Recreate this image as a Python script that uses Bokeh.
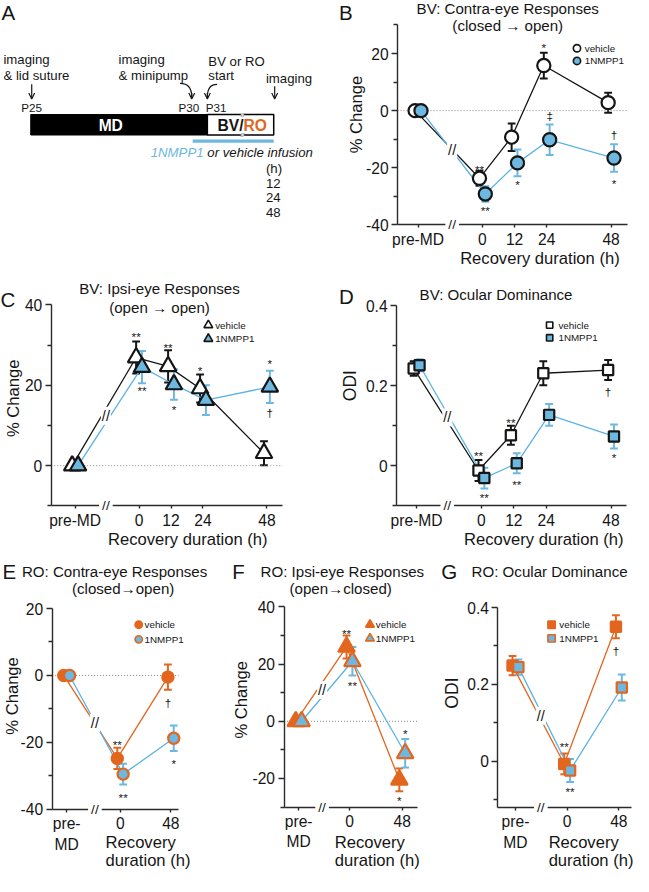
import math
import numpy as np
from bokeh.plotting import figure
from bokeh.models import (Range1d, FixedTicker, Label, Whisker, ColumnDataSource,
                          TeeHead, Arrow, OpenHead)
from bokeh.layouts import column, row
from bokeh.embed import file_html
from bokeh.resources import INLINE
from bokeh.core.properties import value

S = 633 / 649
FONT = "Liberation Sans"
INK = "#151515"
AXIS = "#2b2b2b"
ORANGE = "#e2661e"
BLUE = "#6cb8e0"
BLUE_LINE = "#5cb3e2"
ZERO = "#8a8a8a"

# ---------------- data ----------------
bv_hours = [0, 12, 24, 48]
ro_hours = [0, 48]

# first value of each series = pre-MD
b_vehicle     = [0.0, -23.7, -9.3, 15.8, 2.8]
b_vehicle_err = [0.0, 2.6, 4.8, 4.5, 3.5]
b_nmpp1       = [0.0, -29.2, -18.3, -10.2, -16.6]
b_nmpp1_err   = [0.0, 2.7, 4.7, 5.3, 4.8]

c_vehicle     = [0.0, 26.9, 24.7, 19.2, 3.1]
c_vehicle_err = [0.0, 4.0, 4.0, 3.5, 3.0]
c_nmpp1       = [0.0, 24.5, 20.2, 16.3, 19.6]
c_nmpp1_err   = [0.0, 4.0, 3.8, 3.7, 4.0]

d_vehicle     = [0.243, -0.012, 0.076, 0.231, 0.239]
d_vehicle_err = [0.018, 0.026, 0.024, 0.030, 0.025]
d_nmpp1       = [0.251, -0.031, 0.006, 0.127, 0.073]
d_nmpp1_err   = [0.015, 0.026, 0.025, 0.027, 0.030]

e_vehicle     = [0.0, -24.8, -0.5]
e_vehicle_err = [0.0, 3.2, 3.8]
e_nmpp1       = [0.0, -29.5, -18.8]
e_nmpp1_err   = [0.0, 3.1, 3.8]

f_vehicle     = [0.0, 26.0, -20.5]
f_vehicle_err = [0.0, 4.0, 4.0]
f_nmpp1       = [0.0, 21.0, -11.2]
f_nmpp1_err   = [0.0, 5.0, 5.0]

g_vehicle     = [0.249, -0.007, 0.350]
g_vehicle_err = [0.025, 0.027, 0.030]
g_nmpp1       = [0.245, -0.024, 0.192]
g_nmpp1_err   = [0.020, 0.030, 0.034]

# significance marks: index into [pre-MD]+hours, series, y value, symbol
b_mark_idx = [1, 1, 2, 3, 3, 4, 4]
b_mark_ser = ["v", "n", "n", "v", "n", "n", "n"]
b_mark_y   = [-19.5, -34.1, -24.9, 23.2, -1.7, -8.2, -24.6]
b_mark_sym = ["**", "**", "*", "*", "\u2021", "\u2020", "*"]

c_mark_idx = [1, 1, 2, 2, 3, 4, 4]
c_mark_ser = ["v", "n", "v", "n", "v", "n", "n"]
c_mark_y   = [32.9, 19.3, 30.2, 14.6, 24.4, 26.1, 13.2]
c_mark_sym = ["**", "**", "**", "*", "*", "*", "\u2020"]

d_mark_idx = [1, 1, 2, 2, 4, 4]
d_mark_ser = ["v", "n", "v", "n", "v", "n"]
d_mark_y   = [0.034, -0.073, 0.115, -0.039, 0.185, 0.027]
d_mark_sym = ["**", "**", "**", "**", "\u2020", "*"]

e_mark_idx = [1, 1, 2, 2]
e_mark_ser = ["v", "n", "v", "n"]
e_mark_y   = [-19.8, -35.6, -8.2, -25.4]
e_mark_sym = ["**", "**", "\u2020", "*"]

f_mark_idx = [1, 1, 2, 2]
f_mark_ser = ["v", "n", "n", "v"]
f_mark_y   = [31.7, 13.7, -3.4, -26.6]
f_mark_sym = ["**", "**", "*", "*"]

g_mark_idx = [1, 1, 2]
g_mark_ser = ["v", "n", "v"]
g_mark_y   = [0.046, -0.071, 0.289]
g_mark_sym = ["**", "**", "\u2020"]

series_names = ["vehicle", "1NMPP1"]
timeline_events = ["P25", "P30", "P31"]
recovery_list = ["(h)", "12", "24", "48"]


def fs(v):
    return f"{v * S:.1f}px"


def make_fig(region, xr, yr, axes=True):
    x0, y0, w, h = region
    W = round((x0 + w) * S) - round(x0 * S)
    H = round((y0 + h) * S) - round(y0 * S)
    kw = {} if axes else dict(x_axis_type=None, y_axis_type=None)
    p = figure(width=W, height=H, x_range=Range1d(*xr), y_range=Range1d(*yr),
               min_border_left=0, min_border_top=0, min_border_right=0, min_border_bottom=0,
               output_backend="svg", toolbar_location=None, tools="", **kw)
    p.outline_line_color = None
    p.background_fill_color = "white"
    p.border_fill_color = "white"
    if axes:
        p.grid.visible = False
    return p


def label(p, x, y, text, size, align="left", color=INK, style="normal",
          bg=None, pad=0, angle=0.0):
    kw = {}
    if bg is not None:
        kw = dict(background_fill_color=bg, padding=pad)
    p.add_layout(Label(x=x, y=y, text=text, text_font=FONT, text_font_size=fs(size),
                       text_align=align, text_baseline="middle", text_color=color,
                       text_font_style=style, angle=angle, **kw))


def data_panel(region, x0px, pxh, y0px, pyu, ax_left, ax_right, ybounds,
               premd_x, hours, veh, veh_err, nmp, nmp_err,
               kind, marker, msize, yticks, yminor, ylabel, ylabel_pos, zero, break_px, marks,
               letter, titles, xlabels, legend, lmsize, pre_text, ylabel_size=17):
    rx0, ry0, w, h = region

    def X(px):
        return (px - x0px) / pxh

    def Y(py):
        return (y0px - py) / pyu

    xr = (X(rx0), X(rx0 + w))
    yr = (Y(ry0 + h), Y(ry0))
    p = make_fig(region, xr, yr)
    dodge = 3 / pxh
    xs = [premd_x] + list(hours)

    # axes (library axes, pinned inside the frame)
    xa = p.xaxis[0]
    ya = p.yaxis[0]
    xa.fixed_location = ybounds[0]
    xa.bounds = (X(ax_left), X(ax_right))
    ya.fixed_location = X(ax_left)
    ya.bounds = tuple(ybounds)
    xa.ticker = FixedTicker(ticks=xs, minor_ticks=[])
    over = {premd_x: pre_text}
    for hh in hours:
        over[hh] = str(hh)
    xa.major_label_overrides = over
    ya.ticker = FixedTicker(ticks=yticks, minor_ticks=yminor)
    ya.major_label_overrides = {t: f"{t:g}" for t in yticks}
    for a in (xa, ya):
        a.axis_line_color = AXIS
        a.axis_line_width = 1.4
        a.major_tick_line_color = AXIS
        a.major_tick_line_width = 1.4
        a.minor_tick_line_color = AXIS
        a.minor_tick_line_width = 1.4
        a.major_tick_in = 0
        a.minor_tick_in = 0
        a.major_label_text_font = FONT
        a.major_label_text_font_size = fs(16)
        a.major_label_text_color = INK
    xa.major_tick_out = 3
    xa.minor_tick_out = 0
    xa.major_label_standoff = 3
    ya.major_tick_out = 6
    ya.minor_tick_out = 4
    ya.major_label_standoff = 3

    label(p, X(ylabel_pos[0]), Y(ylabel_pos[1]), ylabel, ylabel_size, "center",
          angle=math.pi / 2)

    if kind == "BV":
        vf, vl, vc, ve = "white", INK, INK, INK
        nf, nl, nc, ne = BLUE, INK, BLUE_LINE, BLUE
    else:
        vf, vl, vc, ve = ORANGE, ORANGE, ORANGE, ORANGE
        nf, nl, nc, ne = BLUE, ORANGE, BLUE_LINE, BLUE

    if zero:
        p.line([X(ax_left), X(ax_right)], [0, 0], line_color=ZERO,
               line_dash="1 2", line_width=1)

    xv = [x - dodge for x in xs]
    xn = [x + dodge for x in xs]
    p.line(xv, veh, line_color=vc, line_width=1.3)
    p.line(xn, nmp, line_color=nc, line_width=1.3)
    for xx, yy, ee, col in [(xv, veh, veh_err, ve), (xn, nmp, nmp_err, ne)]:
        keep = [i for i, e in enumerate(ee) if e > 0]
        src = ColumnDataSource(dict(x=[xx[i] for i in keep],
                                    lo=[yy[i] - ee[i] for i in keep],
                                    hi=[yy[i] + ee[i] for i in keep]))
        p.add_layout(Whisker(source=src, base="x", lower="lo", upper="hi",
                             dimension="height", line_color=col, line_width=2,
                             upper_head=TeeHead(size=8 * S, line_color=col, line_width=2),
                             lower_head=TeeHead(size=8 * S, line_color=col, line_width=2)))
    p.scatter(xv, veh, marker=marker, size=msize * S, fill_color=vf,
              line_color=vl, line_width=2.2)
    p.scatter(xn, nmp, marker=marker, size=msize * S, fill_color=nf,
              line_color=nl, line_width=2.2)

    # axis break and line break marks
    bx = X(break_px)
    label(p, bx, ybounds[0], "//", 14, "center", INK, "normal", "white", 3)
    yv = float(np.interp(bx, xv[:2], veh[:2]))
    yn = float(np.interp(bx, xn[:2], nmp[:2]))
    label(p, bx, (yv + yn) / 2, "//", 15, "center", INK, "normal", "white", 1)

    # significance marks
    idx, ser, my, sym = marks
    mx = [(xv if s == "v" else xn)[i] for i, s in zip(idx, ser)]
    myy = [y - (3.0 / pyu if "*" in t else 0) for y, t in zip(my, sym)]
    p.text(mx, myy, text=sym, text_font=value(FONT), text_font_size=value(fs(12)),
           text_align="center", text_baseline="middle", text_color=INK)

    # legend (manual, small markers)
    lx, ly1, ly2, tx = legend
    for yy, f, l, t in [(ly1, vf, vl, series_names[0]), (ly2, nf, nl, series_names[1])]:
        p.scatter([X(lx)], [Y(yy)], marker=marker, size=lmsize * S, fill_color=f,
                  line_color=l, line_width=1.6)
        label(p, X(tx), Y(yy), t, 10)

    # texts
    lt, lxp, lyp = letter
    label(p, X(lxp), Y(lyp), lt, 21)
    for t, px, py, al in titles:
        label(p, X(px), Y(py), t, 15.5, al)
    for t, px, py, al in xlabels:
        label(p, X(px), Y(py), t, 17, al)
    return p


# ---------------- panel A (schematic) ----------------
pA = make_fig((0, 0, 330, 276), (0, 330), (276, 0), axes=False)
label(pA, 1, 12, "A", 21)
label(pA, 3, 61, "imaging", 13.5)
label(pA, 3, 77, "& lid suture", 13.5)
label(pA, 121, 61, "imaging", 13.5)
label(pA, 121, 77, "& minipump", 13.5)
label(pA, 213, 63, "BV or RO", 13.5)
label(pA, 213, 77, "start", 13.5)
label(pA, 272, 80, "imaging", 13.5)
for ev, x in zip(timeline_events, [32, 193, 221]):
    label(pA, x, 110, ev, 12, "center")
pA.quad(left=[31], right=[212], top=[117], bottom=[138], fill_color="black", line_color="black")
pA.quad(left=[212], right=[280], top=[117], bottom=[138], fill_color="white",
        line_color="black", line_width=1.5)
label(pA, 113, 128, "MD", 16, "center", "white", "bold")
label(pA, 249, 128, "BV/", 16, "right", INK, "bold")
label(pA, 249, 128, "RO", 16, "left", ORANGE, "bold")
label(pA, 248, 117, "//", 6, "center", INK, "normal", "white", 0)
label(pA, 248, 138, "//", 6, "center", INK, "normal", "white", 0)
pA.quad(left=[197], right=[280], top=[142.5], bottom=[146], fill_color=BLUE, line_color=None)
label(pA, 154, 156, "1NMPP1", 13.5, "left", BLUE, "italic")
label(pA, 212, 156, "or vehicle infusion", 13.5, "left", INK, "italic")
for i, t in enumerate(recovery_list):
    label(pA, 272, 172 + i * 15.3, t, 13.5)
for xa0, ya0, ya1 in [(32, 86, 101), (281, 88, 101)]:
    pA.add_layout(Arrow(x_start=xa0, y_start=ya0, x_end=xa0, y_end=ya1, line_width=1.2,
                        line_color=INK, end=OpenHead(size=6 * S, line_width=1.2, line_color=INK)))
pA.bezier(x0=[184, 222], y0=[85, 86], x1=[196, 212], y1=[99, 99],
          cx0=[192, 215], cy0=[85, 86], cx1=[196, 212], cy1=[89, 90],
          line_color=INK, line_width=1.2)
for xa0 in [196, 212]:
    pA.add_layout(Arrow(x_start=xa0, y_start=95, x_end=xa0, y_end=101, line_width=1.2,
                        line_color=INK, end=OpenHead(size=6 * S, line_width=1.2, line_color=INK)))

# ---------------- panels B-G ----------------
pB = data_panel((330, 0, 319, 276), 494, 2.75, 113, 2.929, 407, 643, (-40, 30),
                -24, bv_hours, b_vehicle, b_vehicle_err, b_nmpp1, b_nmpp1_err,
                "BV", "circle", 13.5, [-40, -20, 0, 20], [-30, -10, 10, 30],
                "% Change", (365, 117), True, 463,
                (b_mark_idx, b_mark_ser, b_mark_y, b_mark_sym), ("B", 347, 12),
                [("BV: Contra-eye Responses", 520, 8.5, "center"), ("(closed \u2192 open)", 520, 26, "center")],
                [("Recovery duration (h)", 553, 265, "center")], (591, 49, 62, 599), 7.5, "pre-MD")

pC = data_panel((0, 276, 330, 292), 142, 2.73, 477, 4.12, 52, 289, (-10, 40),
                -24, bv_hours, c_vehicle, c_vehicle_err, c_nmpp1, c_nmpp1_err,
                "BV", "triangle", 17, [0, 20, 40], [-10, 10, 30],
                "% Change", (13, 408), True, 108,
                (c_mark_idx, c_mark_ser, c_mark_y, c_mark_sym), ("C", 0, 307),
                [("BV: Ipsi-eye Responses", 163, 295, "center"), ("(open \u2192 open)", 163, 315, "center")],
                [("Recovery duration (h)", 192, 553, "center")], (213, 333, 347, 220), 9, "pre-MD")

pD = data_panel((330, 276, 319, 292), 493, 2.77, 477, 410, 406, 642, (-0.1, 0.4),
                -24, bv_hours, d_vehicle, d_vehicle_err, d_nmpp1, d_nmpp1_err,
                "BV", "square", 10.5, [0, 0.2, 0.4], [-0.1, 0.1, 0.3],
                "ODI", (358, 395), False, 458,
                (d_mark_idx, d_mark_ser, d_mark_y, d_mark_sym), ("D", 347, 304),
                [("BV: Ocular Dominance", 508, 302, "center")],
                [("Recovery duration (h)", 557, 553, "center")], (563, 333, 346, 572), 6.5, "pre-MD",
                ylabel_size=18)

pE = data_panel((0, 568, 225, 324), 123, 1.083, 692, 3.43, 53, 183, (-40, 20),
                -50.8, ro_hours, e_vehicle, e_vehicle_err, e_nmpp1, e_nmpp1_err,
                "RO", "circle", 11.5, [-40, -20, 0, 20], [-30, -10, 10],
                "% Change", (12, 713), True, 97,
                (e_mark_idx, e_mark_ser, e_mark_y, e_mark_sym), ("E", 2, 585),
                [("RO: Contra-eye Responses", 22, 585, "left"), ("(closed\u2192open)", 126, 603, "center")],
                [("Recovery", 108, 863, "left"), ("duration (h)", 108, 882, "left")],
                (142, 640, 655, 148), 7.5, "pre-\nMD")

pF = data_panel((225, 568, 220, 324), 358, 1.125, 739, 2.93, 291, 428, (-30, 40),
                -46.2, ro_hours, f_vehicle, f_vehicle_err, f_nmpp1, f_nmpp1_err,
                "RO", "triangle", 17, [-20, 0, 20, 40], [-30, -10, 10, 30],
                "% Change", (248, 717), True, 330,
                (f_mark_idx, f_mark_ser, f_mark_y, f_mark_sym), ("F", 238, 585),
                [("RO: Ipsi-eye Responses", 267, 585, "left"), ("(open\u2192closed)", 349, 603, "center")],
                [("Recovery", 343, 863, "left"), ("duration (h)", 343, 882, "left")],
                (379, 640, 654, 385), 9, "pre-\nMD")

pG = data_panel((445, 568, 204, 324), 581, 1.104, 780, 394, 510, 647, (-0.12, 0.4),
                -48, ro_hours, g_vehicle, g_vehicle_err, g_nmpp1, g_nmpp1_err,
                "RO", "square", 10.5, [0, 0.2, 0.4], [-0.1, 0.1, 0.3],
                "ODI", (463, 710), False, 554,
                (g_mark_idx, g_mark_ser, g_mark_y, g_mark_sym), ("G", 452, 585),
                [("RO: Ocular Dominance", 483, 585, "left")],
                [("Recovery", 562, 863, "left"), ("duration (h)", 562, 882, "left")],
                (565, 640, 654, 573), 7.5, "pre-\nMD", ylabel_size=18)

layout = column(row(pA, pB), row(pC, pD), row(pE, pF, pG))
open("out.html", "w").write(file_html(layout, INLINE))
